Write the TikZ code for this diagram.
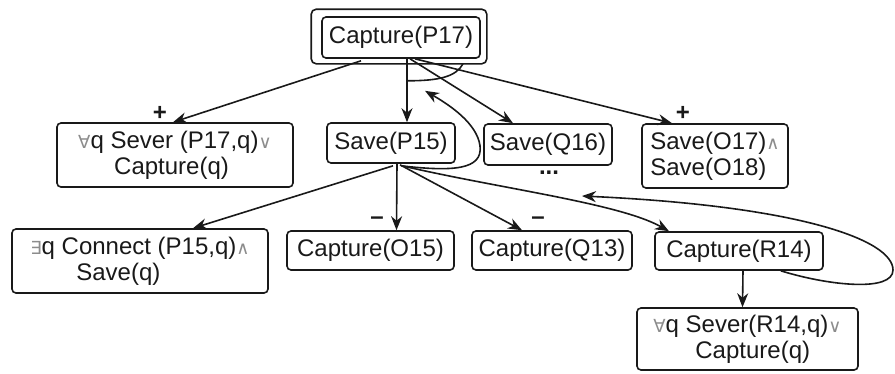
\documentclass[tikz,border=0pt]{standalone}
\usepackage{fontspec}
\setmainfont{Liberation Sans}
\newfontfamily\symfont{DejaVu Sans}
\usetikzlibrary{arrows.meta,calc}
% grey logical connectives inside the formula boxes
\newcommand\lsym[1]{{\symfont\fontsize{18}{18}\selectfont\color{black!45}#1}}
\begin{document}
\begin{tikzpicture}[x=1pt,y=-1pt,
  box/.style={draw=black!90, line width=1.6pt, rounded corners=4pt, inner sep=0pt,
    align=left, font=\fontsize{24}{26}\selectfont, text=black!90},
  conn/.style={draw=black!90, line width=1.6pt, -{Stealth[length=14pt,width=11pt]}},
  plain/.style={draw=black!90, line width=1.6pt},
  sign/.style={font=\fontsize{24}{24}\selectfont\bfseries, inner sep=0pt, text=black!90}]
\useasboundingbox (0,0) rectangle (895,373);

% goal tree nodes
\node[box, minimum width=158pt, minimum height=41pt] (top) at (401,37.5) {Capture(P17)};
\draw[plain, rounded corners=5pt] ($(top.south west)+(-10,5)$) rectangle ($(top.north east)+(6,-7)$);

\node[box, minimum width=236pt, minimum height=64pt] (sever1) at (175,155)
  {\lsym{∀}q Sever (P17,q)\lsym{∨}\\\hspace*{36pt}Capture(q)};
\node[box, minimum width=128pt, minimum height=40pt] (saveP) at (391,143) {Save(P15)};
\node[box, minimum width=128pt, minimum height=41pt] (saveQ) at (548,144.5) {Save(Q16)};
\node[box, minimum width=146pt, minimum height=64pt] (saveO) at (715,156)
  {Save(O17)\lsym{∧}\\Save(O18)};

\node[box, minimum width=256pt, minimum height=64pt] (connect) at (140,261)
  {\lsym{∃}q Connect (P15,q)\lsym{∧}\\\hspace*{46pt}Save(q)};
\node[box, minimum width=167pt, minimum height=39pt] (capO) at (370.5,250.5) {Capture(O15)};
\node[box, minimum width=160pt, minimum height=39pt] (capQ) at (552,250.5) {Capture(Q13)};
\node[box, minimum width=168pt, minimum height=38pt] (capR) at (739,251) {Capture(R14)};
\node[box, minimum width=221pt, minimum height=62pt] (sever2) at (747.5,339)
  {\lsym{∀}q Sever(R14,q)\lsym{∨}\\\hspace*{42pt}Capture(q)};

% signs and ellipsis
\node[sign] (p1) at (160,113) {+};
\node[sign] (p2) at (683,113) {+};
\node[sign] (m1) at (377,221) {–};
\node[sign] (m2) at (538,221) {–};
\node[sign, text height=4pt, text depth=0pt] (dots) at (549,172) {...};

% connectors from Capture(P17)
\draw[conn] ($(top.south)+(-40,2)$) -- ($(sever1.north)+(-2,0)$);
\draw[conn] ($(top.south)+(6,0)$) -- ($(saveP.north)+(16,0)$);
\draw[conn] ($(top.south)+(9,0)$) -- ($(saveQ.north)+(-35,0)$);
\draw[conn] ($(top.south)+(14,0)$) -- ($(saveO.north)+(-43,0)$);
\draw[plain] ($(top.south)+(6,22)$) .. controls ($(top.south)+(38,22)$) and ($(top.south)+(55,18)$) .. ($(top.south)+(62,5)$);

% loop from Save(P15) back up
\draw[conn] ($(saveP.south)+(10,2)$) .. controls ($(saveP.south)+(62,8)$) and ($(saveP.south)+(92,6)$) .. ($(saveP.south)+(89,-18)$)
  .. controls ($(saveP.south)+(86,-40)$) and ($(saveP.south)+(60,-58)$) .. ($(saveP.south)+(34,-73)$);

% connectors from Save(P15)
\draw[conn] ($(saveP.south)+(2,2)$) -- ($(connect.north)+(53,0)$);
\draw[conn] ($(saveP.south)+(6,0)$) -- ($(capO.north)+(26,0)$);
\draw[conn] ($(saveP.south)+(9,1)$) -- ($(capQ.north)+(-30,0)$);
\draw[conn] ($(saveP.south)+(11,2)$) .. controls ($(saveP.south)+(110,25)$) and ($(capR.north)+(-120,-28)$) .. ($(capR.north)+(-70,0)$);

% Capture(R14) to its sub-goal, and its loop
\draw[conn] ($(capR.south)+(4,0)$) -- ($(sever2.north)+(-5,0)$);
\coordinate (loopback) at (582,196);
\draw[conn] ($(capR.south east)+(-43,0)$) .. controls (830,286) and (893,292) .. (893,270)
  .. controls (893,240) and (800,206) .. (loopback);
\end{tikzpicture}
\end{document}
